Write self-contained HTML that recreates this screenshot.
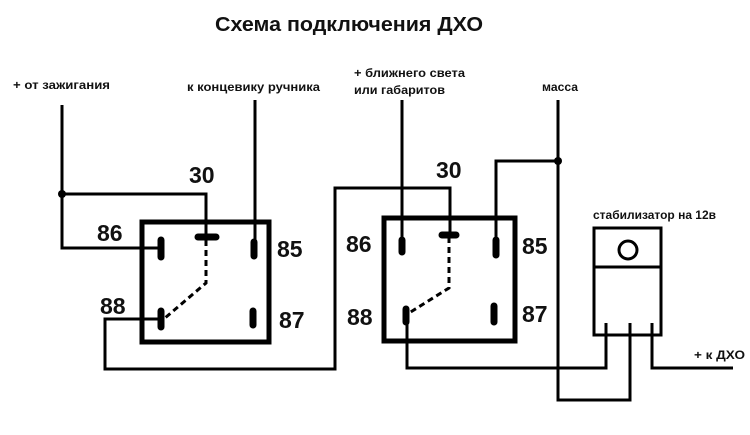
<!DOCTYPE html>
<html><head><meta charset="utf-8"><style>html,body{margin:0;padding:0;background:#fff}svg{display:block}</style></head>
<body>
<svg width="750" height="435" viewBox="0 0 750 435" xmlns="http://www.w3.org/2000/svg" font-family="Liberation Sans, sans-serif" font-weight="bold">
<rect width="750" height="435" fill="#fff"/>
<text x="215" y="31" font-size="20" textLength="268" lengthAdjust="spacingAndGlyphs" fill="#111">Схема подключения ДХО</text>
<g font-size="12" fill="#111">
<text x="13" y="89" textLength="97" lengthAdjust="spacingAndGlyphs">+ от зажигания</text>
<text x="187" y="91" textLength="133" lengthAdjust="spacingAndGlyphs">к концевику ручника</text>
<text x="354" y="77" textLength="111" lengthAdjust="spacingAndGlyphs">+ ближнего света</text>
<text x="354" y="94" textLength="91" lengthAdjust="spacingAndGlyphs">или габаритов</text>
<text x="542" y="91" textLength="36" lengthAdjust="spacingAndGlyphs">масса</text>
<text x="593" y="219" textLength="123" lengthAdjust="spacingAndGlyphs">стабилизатор на 12в</text>
<text x="694" y="359" textLength="51" lengthAdjust="spacingAndGlyphs">+ к ДХО</text>
</g>
<g font-size="23" fill="#111">
<text x="189" y="183">30</text>
<text x="97" y="241">86</text>
<text x="277" y="257">85</text>
<text x="100" y="314">88</text>
<text x="279" y="328">87</text>
<text x="436" y="178">30</text>
<text x="346" y="252">86</text>
<text x="522" y="254">85</text>
<text x="347" y="325">88</text>
<text x="522" y="322">87</text>
</g>
<g fill="none" stroke="#000" stroke-width="3">
<!-- left relay -->
<path d="M62 105 V248 H161"/>
<path d="M62 194 H206 V237"/>
<path d="M255 100 V242"/>
<path d="M161 319 H105 V369 H335 V188 H450 V235"/>
<path d="M402 100 V240"/>
<path d="M496 242 V161 H558"/>
<path d="M558 100 V400 H630 V325"/>
<path d="M407 315 V368 H606 V325"/>
<path d="M652 325 V368 H733"/>
</g>
<rect x="142" y="222" width="127" height="120" fill="none" stroke="#000" stroke-width="5"/>
<rect x="384" y="218" width="131" height="123" fill="none" stroke="#000" stroke-width="5"/>
<g fill="none" stroke="#000" stroke-width="3" stroke-dasharray="6,4">
<path d="M206 240 V283 L165 318"/>
<path d="M449 237 V288 L409 313"/>
</g>
<g stroke="#000" stroke-linecap="round" stroke-width="7">
<line x1="161" y1="240" x2="161" y2="257"/>
<line x1="198" y1="237" x2="216" y2="237"/>
<line x1="254" y1="242" x2="254" y2="256"/>
<line x1="161" y1="311" x2="161" y2="327"/>
<line x1="253" y1="311" x2="253" y2="325"/>
<line x1="402" y1="240" x2="402" y2="252"/>
<line x1="442" y1="235" x2="456" y2="235"/>
<line x1="496" y1="240" x2="496" y2="255"/>
<line x1="406" y1="309" x2="406" y2="322"/>
<line x1="494" y1="306" x2="494" y2="322"/>
</g>
<circle cx="62" cy="194" r="4" fill="#000"/>
<circle cx="558" cy="161" r="4" fill="#000"/>
<!-- stabilizer -->
<rect x="594" y="228" width="67" height="107" fill="#fff" stroke="#000" stroke-width="3"/>
<line x1="594" y1="267" x2="661" y2="267" stroke="#000" stroke-width="3"/>
<circle cx="628" cy="250" r="9" fill="none" stroke="#000" stroke-width="3"/>
<g stroke="#000" stroke-width="3"><line x1="606" y1="323" x2="606" y2="335"/><line x1="630" y1="323" x2="630" y2="335"/><line x1="652" y1="323" x2="652" y2="335"/></g>
</svg>
</body></html>
